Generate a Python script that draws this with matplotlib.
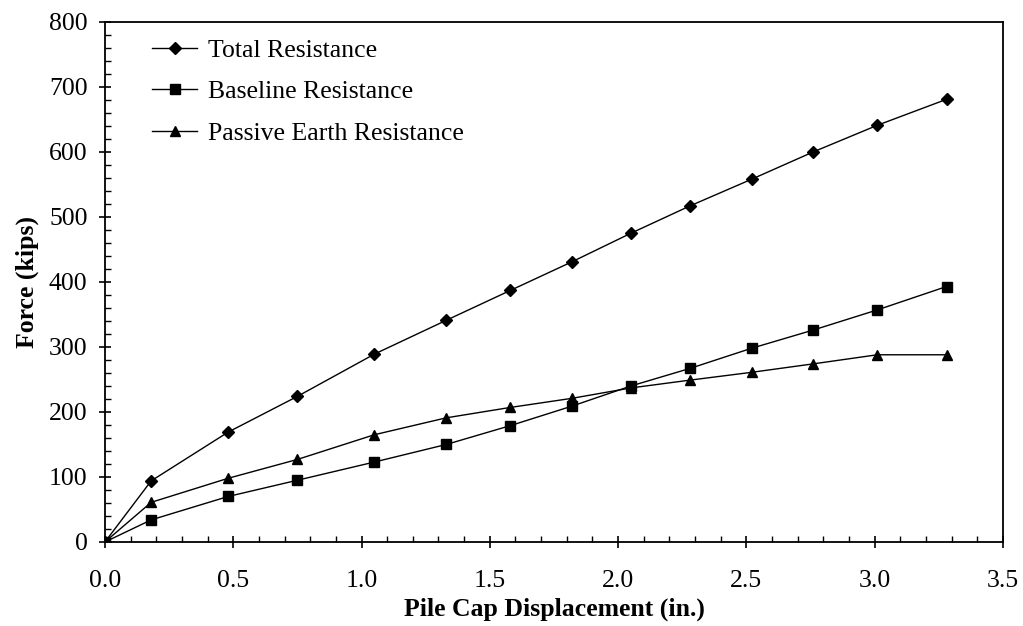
import matplotlib
matplotlib.use("Agg")
import matplotlib.pyplot as plt
from matplotlib.ticker import MultipleLocator, FormatStrFormatter

# Pile cap load test: displacement (in.) vs force (kips)
displacement = [0.0, 0.18, 0.48, 0.75, 1.05, 1.33, 1.58, 1.82, 2.05, 2.28, 2.52, 2.76, 3.01, 3.28]
total_resistance = [0, 94, 169, 224, 289, 341, 387, 431, 475, 517, 558, 600, 641, 681]
baseline_resistance = [0, 34, 70, 95, 123, 150, 179, 209, 240, 267, 298, 326, 357, 393]
passive_resistance = [0, 61, 98, 127, 165, 191, 207, 221, 237, 249, 261, 274, 288, 288]

serif = ["Liberation Serif", "DejaVu Serif"]
plt.rcParams["font.family"] = serif

fig = plt.figure(figsize=(10.23, 6.26), dpi=100)
ax = fig.add_axes([0.1026, 0.1342, 0.8778, 0.8307])

ax.plot(displacement, total_resistance, color="black", lw=1.0,
        marker="D", ms=6, label="Total Resistance")
ax.plot(displacement, baseline_resistance, color="black", lw=1.0,
        marker="s", ms=6.5, label="Baseline Resistance")
ax.plot(displacement, passive_resistance, color="black", lw=1.0,
        marker="^", ms=7, label="Passive Earth Resistance")

ax.set_xlim(0, 3.5)
ax.set_ylim(0, 800)
ax.xaxis.set_major_locator(MultipleLocator(0.5))
ax.xaxis.set_minor_locator(MultipleLocator(0.1))
ax.xaxis.set_major_formatter(FormatStrFormatter("%.1f"))
ax.yaxis.set_major_locator(MultipleLocator(100))
ax.yaxis.set_minor_locator(MultipleLocator(20))

ax.tick_params(which="major", direction="inout", length=9, width=1.2,
               labelsize=18.5, pad=8)
ax.tick_params(which="minor", direction="in", length=4, width=1.0)
ax.tick_params(axis="x", pad=16)
for s in ax.spines.values():
    s.set_linewidth(1.3)

ax.set_xlabel("Pile Cap Displacement (in.)", fontsize=18.5, fontweight="bold",
              labelpad=4)
ax.set_ylabel("Force (kips)", fontsize=18.5, fontweight="bold", labelpad=7)

ax.legend(loc="upper left", frameon=False, fontsize=18.5, handlelength=1.75,
          handletextpad=0.4, labelspacing=0.72,
          bbox_to_anchor=(0.027, 1.012))

fig.savefig("out.png", dpi=100)
